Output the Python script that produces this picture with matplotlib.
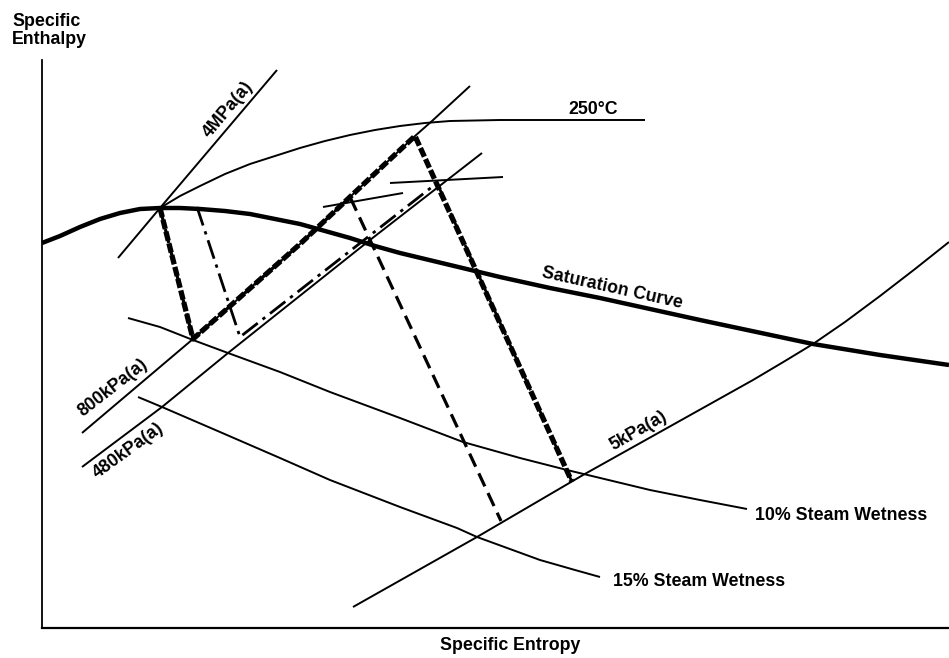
import matplotlib
matplotlib.use("Agg")
import matplotlib.pyplot as plt

plt.rcParams['font.family'] = ['Liberation Sans', 'DejaVu Sans']

# schematic Mollier chart (pixel units, y down)
sat_x = [42, 60, 80, 100, 120, 140, 160, 180, 200, 225, 250, 275, 300, 325, 350,
         375, 400, 450, 500, 550, 600, 700, 813, 880, 949]
sat_y = [243, 236, 227, 219, 213, 209, 208, 208, 209, 211, 214, 219, 224, 231, 238,
         246, 253, 265, 277, 288, 298, 320, 344, 355, 365]

t250_x = [160, 180, 200, 225, 250, 275, 300, 325, 350, 375, 400, 425, 450, 500, 560, 645]
t250_y = [208, 196, 186, 174, 164, 156, 148, 141, 135, 130, 126, 123, 121, 120, 120, 120]

p4mpa_x = [118, 160, 277]
p4mpa_y = [258, 208, 70]

p800_x = [82, 193, 300, 385, 415, 432, 470]
p800_y = [433, 339, 244, 164, 136, 121, 86]

p480_x = [82, 162, 228, 370, 482]
p480_y = [467, 407, 353, 240, 153]

p5k_x = [353, 477, 583, 753, 785, 813, 845, 880, 915, 949]
p5k_y = [607, 537, 475, 380, 361, 344, 322, 296, 269, 242]

w10_x = [128, 160, 193, 228, 280, 330, 400, 463, 520, 567, 650, 700, 747]
w10_y = [318, 327, 340, 353, 372, 392, 418, 442, 458, 470, 490, 500, 509]

w15_x = [138, 162, 220, 280, 330, 400, 457, 477, 540, 575, 600]
w15_y = [397, 407, 432, 458, 480, 507, 528, 537, 560, 570, 577]

iso1_x = [323, 403]
iso1_y = [207, 193]
iso2_x = [390, 503]
iso2_y = [183, 177]

procA_x = [160, 193, 300, 385, 415, 572]
procA_y = [208, 339, 244, 164, 136, 482]
procB_x = [160, 193, 300, 350, 501]
procB_y = [208, 339, 244, 197, 521]
procC_x = [197, 240, 437, 572]
procC_y = [207, 337, 183, 482]

fig = plt.figure(figsize=(9.49, 6.58), dpi=100)
ax = fig.add_axes([42/949, 30/658, 907/949, 568/658])
ax.set_xlim(42, 949)
ax.set_ylim(628, 60)
ax.spines['top'].set_visible(False)
ax.spines['right'].set_visible(False)
ax.spines['left'].set_linewidth(1.3)
ax.spines['bottom'].set_linewidth(1.6)
ax.set_xticks([])
ax.set_yticks([])

thin = 1.4
k = dict(color='black', clip_on=False, solid_capstyle='butt')
ax.plot(sat_x, sat_y, lw=3.2, solid_joinstyle='round', **k)
ax.plot(t250_x, t250_y, lw=thin, **k)
ax.plot(p4mpa_x, p4mpa_y, lw=thin, **k)
ax.plot(p800_x, p800_y, lw=thin, **k)
ax.plot(p480_x, p480_y, lw=thin, **k)
ax.plot(p5k_x, p5k_y, lw=thin, **k)
ax.plot(w10_x, w10_y, lw=thin, **k)
ax.plot(w15_x, w15_y, lw=thin, **k)
ax.plot(iso1_x, iso1_y, lw=thin, **k)
ax.plot(iso2_x, iso2_y, lw=thin, **k)

ax.plot(procA_x, procA_y, lw=3.8, ls=(0, (1.8, 0.5)), color='black', clip_on=False)
ax.plot(procB_x, procB_y, lw=2.3, ls=(0, (4.5, 2.3)), color='black', clip_on=False)
ax.plot(procC_x, procC_y, lw=2.0, ls=(0, (7, 2.2, 1.2, 2.2)), color='black', clip_on=False)

fs = 12.8
tk = dict(fontsize=fs, fontweight='bold', ha='center', va='center', rotation_mode='anchor')
ax.text(228, 110, '4MPa(a)', rotation=50, **tk)
ax.text(113, 388, '800kPa(a)', rotation=38, **tk)
ax.text(128, 451, '480kPa(a)', rotation=36, **tk)
ax.text(638, 431, '5kPa(a)', rotation=30, **tk)
ax.text(593, 109, '250°C', **tk)
ax.text(612, 288, 'Saturation Curve', rotation=-12.5, **tk)
ax.text(755, 515, '10% Steam Wetness', fontsize=fs, fontweight='bold', ha='left', va='center')
ax.text(613, 582, '15% Steam Wetness', fontsize=fs, fontweight='bold', ha='left', va='center')

fig.text(510/949, 1 - 645/658, 'Specific Entropy', fontsize=fs, fontweight='bold',
         ha='center', va='center')
fig.text(12/949, 1 - 13/658, 'Specific\nEnthalpy', fontsize=fs, fontweight='bold',
         ha='left', va='top', linespacing=1.05)

fig.savefig('out.png', dpi=100)
